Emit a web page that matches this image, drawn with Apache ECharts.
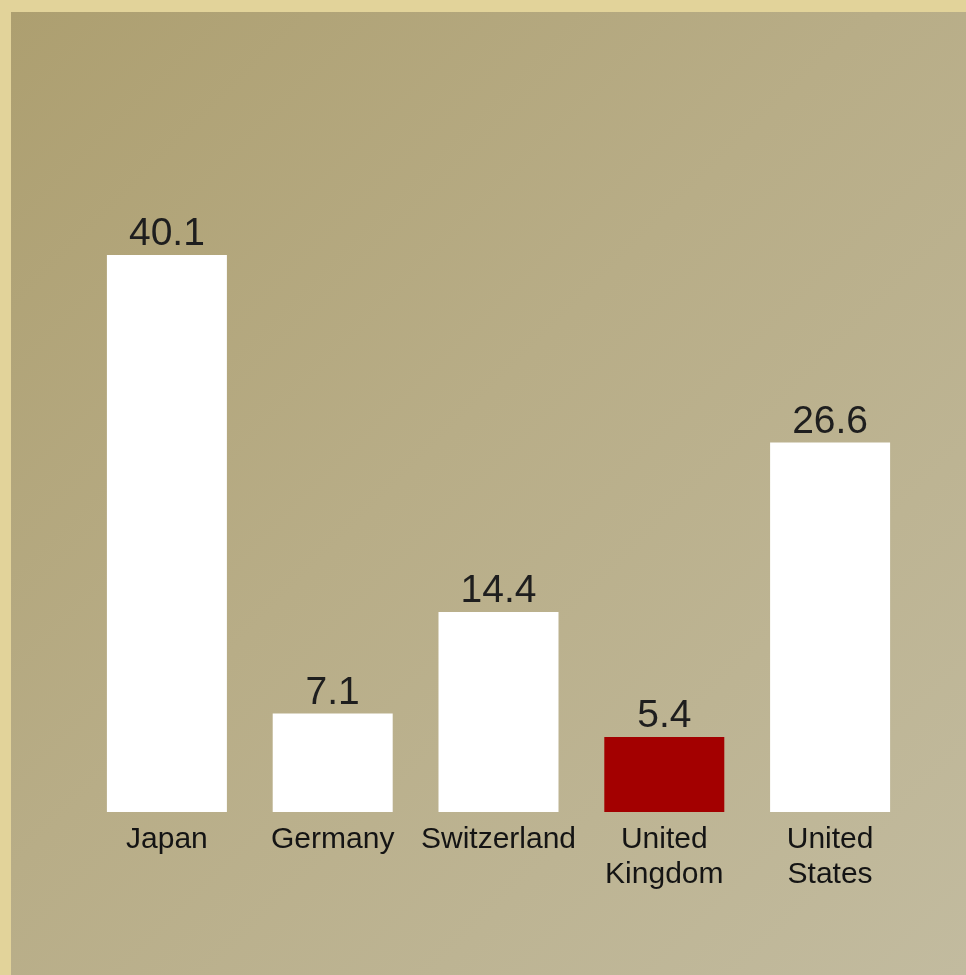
<!DOCTYPE html>
<html>
<head>
<meta charset="utf-8">
<style>
html,body{margin:0;padding:0;background:#e2d39a;}
#c{width:966px;height:975px;}
</style>
<script src="https://cdn.jsdelivr.net/npm/echarts@6/dist/echarts.min.js"></script>
</head>
<body>
<div id="c"></div>
<script>
var categories = ['Japan', 'Germany', 'Switzerland', 'United\nKingdom', 'United\nStates'];
var values = [40.1, 7.1, 14.4, 5.4, 26.6];
var barColors = ['#ffffff', '#ffffff', '#ffffff', '#a30000', '#ffffff'];

var chart = echarts.init(document.getElementById('c'), null, {renderer: 'canvas'});
chart.setOption({
  backgroundColor: '#e2d39a',
  animation: false,
  graphic: [{
    type: 'rect',
    left: 11, top: 12,
    shape: {width: 955, height: 963},
    style: {
      fill: new echarts.graphic.LinearGradient(0, 0, 1, 1, [
        {offset: 0, color: '#ad9f70'},
        {offset: 0.45, color: '#b8ad87'},
        {offset: 1, color: '#c2bb9f'}
      ])
    },
    silent: true,
    z: -10
  }],
  grid: {left: 84, right: 53, top: 187, height: 625},
  xAxis: {
    type: 'category',
    data: categories,
    axisLine: {show: false},
    axisTick: {show: false},
    axisLabel: {
      color: '#141414',
      fontFamily: 'Liberation Sans, Arial, sans-serif',
      fontSize: 30,
      lineHeight: 35,
      margin: 10,
      interval: 0
    }
  },
  yAxis: {
    type: 'value',
    min: 0, max: 45,
    show: false,
    splitLine: {show: false}
  },
  series: [{
    type: 'bar',
    barWidth: 120,
    data: values.map(function (v, i) {
      return {value: v, itemStyle: {color: barColors[i]}};
    }),
    label: {
      show: true,
      position: 'top',
      distance: 1,
      color: '#1e1e1e',
      fontFamily: 'Liberation Sans, Arial, sans-serif',
      fontSize: 39
    }
  }]
});
</script>
</body>
</html>
